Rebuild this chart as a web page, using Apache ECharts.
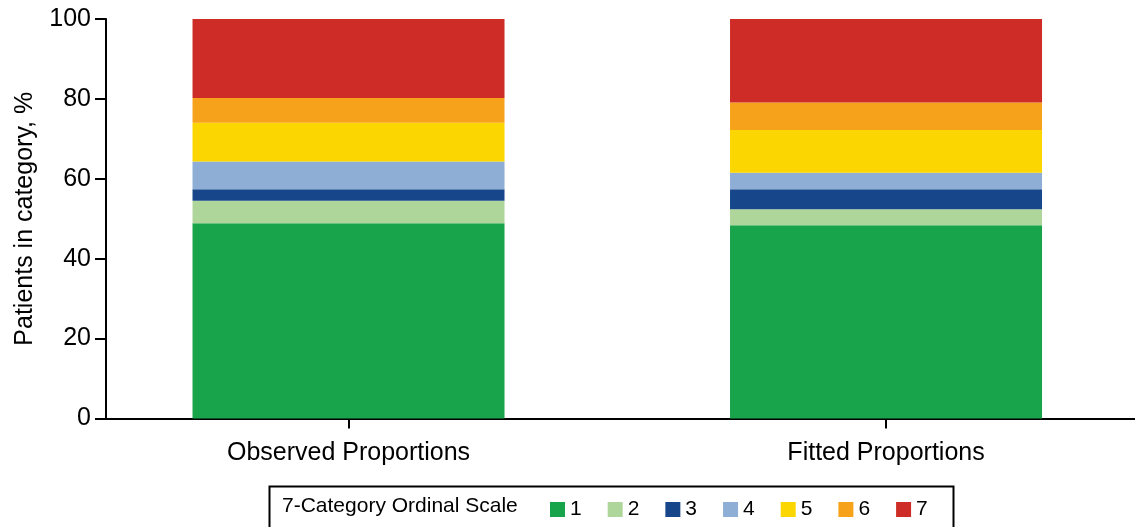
<!DOCTYPE html>
<html>
<head>
<meta charset="utf-8">
<script src="https://cdn.jsdelivr.net/npm/echarts@6/dist/echarts.min.js"></script>
<style>
  html, body { margin: 0; padding: 0; background: #ffffff; }
  #chart { width: 1135px; height: 527px; }
</style>
</head>
<body>
<div id="chart"></div>
<script>
// Bars shown along the horizontal axis
const categories = ['Observed Proportions', 'Fitted Proportions'];
// Position of each bar on the horizontal value scale
const barPositions = [1, 2];
// Levels of the 7-category ordinal scale
const scaleLevels = ['1', '2', '3', '4', '5', '6', '7'];
// Share of patients (%) in each level, per bar
const observedShare = [48.9, 5.6, 2.9, 6.9, 9.7, 6.2, 19.8];
const fittedShare   = [48.4, 4.0, 5.0, 4.1, 10.7, 6.9, 20.9];
// Y-axis ticks
const yTicks = [0, 20, 40, 60, 80, 100];

const levelColors = ['#18a44a', '#aed69a', '#17468a', '#8eaed6', '#fcd600', '#f7a21b', '#ce2d27'];
const FONT = '"Liberation Sans", Arial, Helvetica, sans-serif';

const chart = echarts.init(document.getElementById('chart'), null, { renderer: 'canvas' });

const shares = [observedShare, fittedShare];
// Each row is [share, position]; the share column comes first so the
// stack accumulates along y.
const series = scaleLevels.map((lvl, k) => ({
  name: lvl,
  type: 'bar',
  stack: 'total',
  barWidth: 312,
  encode: { x: 1, y: 0 },
  itemStyle: { color: levelColors[k] },
  emphasis: { disabled: true },
  data: barPositions.map((p, i) => [shares[i][k], p])
}));

chart.setOption({
  animation: false,
  backgroundColor: '#ffffff',
  textStyle: { fontFamily: FONT, color: '#000' },
  grid: { left: 106, right: 0, top: 19, bottom: 108.5, containLabel: false },
  xAxis: {
    type: 'value',
    min: 0.5488,
    max: 2.4632,
    splitLine: { show: false },
    axisLine: { show: true, lineStyle: { color: '#000', width: 2 } },
    axisTick: { show: true, customValues: barPositions, length: 10, lineStyle: { color: '#000', width: 2 } },
    axisLabel: {
      customValues: barPositions,
      formatter: v => categories[barPositions.indexOf(v)] || '',
      fontFamily: FONT, fontSize: 25, color: '#000', margin: 22
    }
  },
  yAxis: {
    type: 'value',
    min: yTicks[0],
    max: yTicks[yTicks.length - 1],
    interval: 20,
    name: 'Patients in category, %',
    nameLocation: 'middle',
    nameGap: 68,
    nameTextStyle: { fontFamily: FONT, fontSize: 25, color: '#000' },
    splitLine: { show: false },
    axisLine: { show: true, lineStyle: { color: '#000', width: 2 } },
    axisTick: { show: true, length: 11, lineStyle: { color: '#000', width: 2 } },
    axisLabel: { fontFamily: FONT, fontSize: 25, color: '#000', margin: 15 }
  },
  legend: {
    data: scaleLevels,
    left: 550,
    top: 499,
    padding: 0,
    icon: 'rect',
    itemWidth: 15,
    itemHeight: 15,
    itemGap: 26,
    selectedMode: false,
    textStyle: { fontFamily: FONT, fontSize: 21, color: '#000' }
  },
  graphic: [
    {
      type: 'rect',
      left: 267, top: 484,
      shape: { width: 684, height: 70 },
      style: { fill: 'none', stroke: '#000', lineWidth: 2 },
      silent: true
    },
    {
      type: 'text',
      left: 282, top: 496,
      style: { text: '7-Category Ordinal Scale', font: '21px ' + FONT, fill: '#000' },
      silent: true
    }
  ],
  series: series
});
</script>
</body>
</html>
